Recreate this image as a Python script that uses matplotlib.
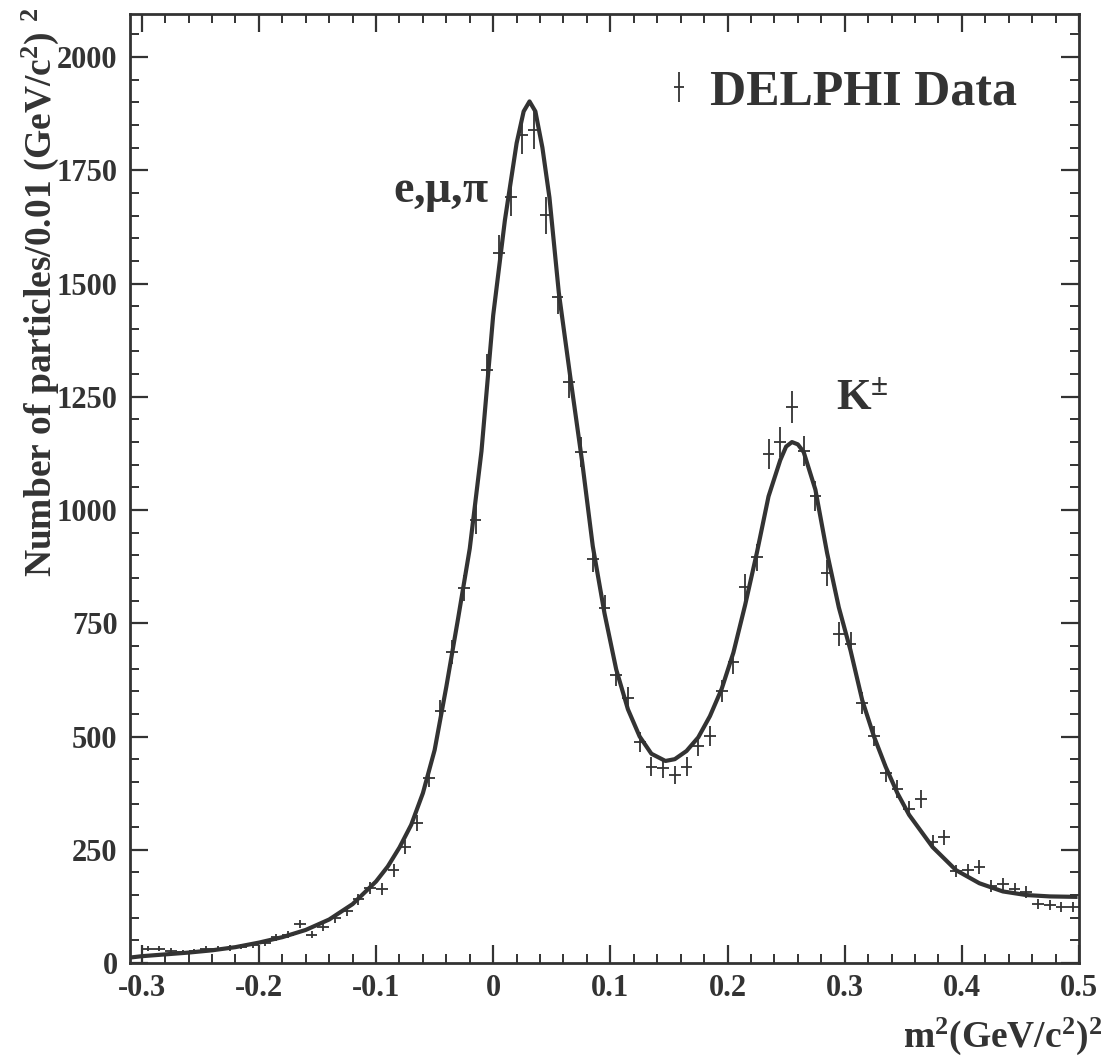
import numpy as np
import matplotlib
matplotlib.use("Agg")
import matplotlib.pyplot as plt
from matplotlib.ticker import MultipleLocator, FuncFormatter
from matplotlib.legend_handler import HandlerErrorbar
from matplotlib.container import ErrorbarContainer

plt.rcParams['font.family'] = ['Liberation Serif', 'DejaVu Serif']
plt.rcParams['font.weight'] = 'bold'
plt.rcParams['mathtext.fontset'] = 'custom'
plt.rcParams['mathtext.rm'] = 'Liberation Serif:bold'
plt.rcParams['mathtext.bf'] = 'Liberation Serif:bold'
plt.rcParams['mathtext.it'] = 'Liberation Serif:bold'
plt.rcParams['mathtext.default'] = 'bf'

INK = '#333333'

# DELPHI data: bin centres (bin width 0.01) and counts per bin
bin_lo = -0.295
bin_hi = 0.495
counts = [31, 31, 27, 24, 26, 31, 31, 33, 36, 40,
          44, 57, 62, 86, 62, 80, 99, 115, 141, 165,
          163, 205, 256, 309, 408, 556, 687, 828, 978, 1309,
          1567, 1691, 1828, 1839, 1651, 1470, 1283, 1128, 892, 784,
          636, 585, 488, 433, 430, 415, 433, 479, 501, 600,
          664, 830, 896, 1124, 1150, 1227, 1130, 1031, 861, 726,
          704, 574, 501, 419, 384, 340, 362, 267, 278, 203,
          205, 212, 170, 174, 163, 157, 130, 128, 124, 124]

# fitted curve
fit_x = [-0.31, -0.30, -0.28, -0.26, -0.24, -0.22, -0.20, -0.18, -0.16, -0.14,
         -0.12, -0.10, -0.09, -0.08, -0.07, -0.06, -0.05, -0.04, -0.03, -0.02,
         -0.01, 0.0, 0.01, 0.02, 0.026, 0.031, 0.036, 0.042, 0.048, 0.056,
         0.066, 0.076, 0.085, 0.095, 0.105, 0.115, 0.125, 0.135, 0.147, 0.155,
         0.165, 0.175, 0.185, 0.195, 0.205, 0.215, 0.225, 0.235, 0.245, 0.250,
         0.255, 0.260, 0.265, 0.275, 0.285, 0.295, 0.305, 0.315, 0.325, 0.335,
         0.345, 0.355, 0.375, 0.395, 0.415, 0.435, 0.455, 0.475, 0.497]
fit_y = [12, 15, 19, 23, 28, 35, 45, 57, 73, 96,
         130, 180, 213, 255, 305, 375, 470, 610, 760, 915,
         1130, 1430, 1640, 1810, 1880, 1902, 1880, 1800, 1690, 1480,
         1290, 1105, 920, 772, 648, 560, 500, 462, 446, 450,
         468, 498, 545, 605, 685, 790, 905, 1030, 1110, 1140,
         1150, 1145, 1128, 1045, 905, 785, 690, 580, 500, 433,
         375, 327, 256, 205, 176, 158, 150, 147, 146]

bin_x = np.round(np.arange(bin_lo, bin_hi + 0.001, 0.01), 3)
counts = np.array(counts, dtype=float)

fig = plt.figure(figsize=(11.08, 10.59), dpi=100)
ax = fig.add_axes([130 / 1108, 1 - 963 / 1059, 949 / 1108, 949 / 1059])

eb = ax.errorbar(bin_x, counts, xerr=0.005, yerr=np.sqrt(counts), fmt='none',
                 ecolor=INK, elinewidth=1.3, capsize=0, zorder=2)
ax.plot(fit_x, fit_y, color=INK, lw=3.0, solid_joinstyle='round', zorder=3)

ax.set_xlim(-0.31, 0.5)
ax.set_ylim(0, 2095)

ax.xaxis.set_major_locator(MultipleLocator(0.1))
ax.xaxis.set_minor_locator(MultipleLocator(0.02))
ax.yaxis.set_major_locator(MultipleLocator(250))
ax.yaxis.set_minor_locator(MultipleLocator(50))
ax.xaxis.set_major_formatter(FuncFormatter(lambda v, p: '0' if abs(v) < 1e-9 else '%.1f' % v))
ax.yaxis.set_major_formatter(FuncFormatter(lambda v, p: '%d' % v))

ax.tick_params(which='both', direction='in', top=True, right=True,
               color=INK, labelcolor=INK, labelsize=22)
ax.tick_params(which='major', length=13, width=1.6)
ax.tick_params(which='minor', length=6.5, width=1.4)
ax.tick_params(axis='x', pad=8)
ax.tick_params(axis='y', pad=9)
for lab in ax.get_xticklabels() + ax.get_yticklabels():
    lab.set_fontweight('bold')
for s in ax.spines.values():
    s.set_linewidth(2.0)
    s.set_color(INK)

# axis titles
fig.text(40 / 1108, 1 - 292 / 1059, r'Number of particles/0.01 (GeV/c$^2$) $^2$',
         rotation=90, ha='center', va='center', fontsize=27, color=INK)
fig.text(1102 / 1108, 1 - 1047 / 1059, r'm$^2$(GeV/c$^2$)$^2$',
         ha='right', va='baseline', fontsize=27, color=INK)

# peak labels
ax.text(-0.004, 1680, r'e,$\mu$,$\pi$', ha='right', va='baseline', fontsize=33, color=INK)
ax.text(0.293, 1222, r'K$^{\pm}$', ha='left', va='baseline', fontsize=32, color=INK)

leg = ax.legend([eb], ['DELPHI Data'], loc='center right', bbox_to_anchor=(0.935, 0.917),
                frameon=False, fontsize=36, handlelength=0.35, handletextpad=0.45,
                borderpad=0, borderaxespad=0,
                handler_map={ErrorbarContainer: HandlerErrorbar(xerr_size=0.1, yerr_size=0.3)})
for t in leg.get_texts():
    t.set_color(INK)
    t.set_fontweight('bold')

fig.savefig('out.png', dpi=100, facecolor='white')
